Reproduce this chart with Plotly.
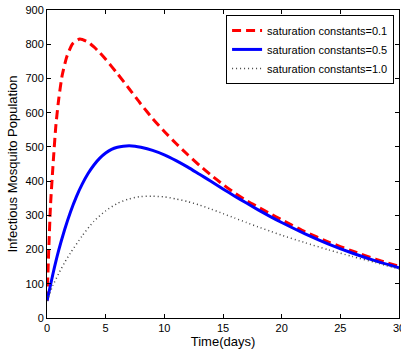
import plotly.graph_objects as go

# Data
t_red = [0, 0.15, 0.3, 0.5, 0.75, 1, 1.3, 1.7, 2.2, 2.8, 3.5, 4, 4.5, 5, 6, 7, 8, 9, 10, 11, 12, 13, 14, 15, 16, 17, 18, 19, 20, 22, 24, 26, 28, 30]
v_red = [50, 200, 330, 440, 560, 640, 710, 765, 802, 815, 806, 792, 775, 756, 714, 670, 625, 583, 545, 510, 477, 446, 417, 390, 365, 343, 324, 305, 287, 252, 222, 196, 172, 151]

t_blue = [0, 0.5, 1, 1.5, 2, 2.5, 3, 3.5, 4, 4.5, 5, 5.5, 6, 6.5, 7, 7.5, 8, 9, 10, 11, 12, 13, 14, 15, 16, 17, 18, 19, 20, 22, 24, 26, 28, 30]
v_blue = [50, 128, 198, 258, 310, 354, 391, 422, 447, 467, 482, 493, 499, 502, 503, 502, 499, 490, 477, 460, 441, 420, 399, 377, 356, 336, 316, 297, 279, 246, 216, 190, 167, 147]

t_dot = [0, 0.5, 1, 1.5, 2, 3, 4, 5, 6, 7, 8, 9, 10, 11, 12, 13, 14, 15, 16, 17, 18, 19, 20, 22, 24, 26, 28, 30]
v_dot = [50, 95, 130, 162, 190, 240, 283, 313, 335, 348, 355, 356, 354, 348, 340, 330, 318, 305, 292, 279, 266, 254, 242, 220, 199, 180, 162, 143]

names = ["saturation constants=0.1", "saturation constants=0.5", "saturation constants=1.0"]
x_ticks = [0, 5, 10, 15, 20, 25, 30]
y_ticks = [0, 100, 200, 300, 400, 500, 600, 700, 800, 900]

fig = go.Figure()
fig.add_trace(go.Scatter(x=t_red, y=v_red, mode="lines", name=names[0],
                         line=dict(color="red", width=3, dash="9px,5px", shape="spline", smoothing=0.6)))
fig.add_trace(go.Scatter(x=t_blue, y=v_blue, mode="lines", name=names[1],
                         line=dict(color="blue", width=3, shape="spline", smoothing=0.6)))
fig.add_trace(go.Scatter(x=t_dot, y=v_dot, mode="lines", name=names[2],
                         line=dict(color="#444444", width=1.5, dash="1px,3px", shape="spline", smoothing=0.6)))

axis_common = dict(showgrid=False, zeroline=False, showline=True, linecolor="black", linewidth=1,
                   mirror="ticks", ticks="inside", ticklen=4, tickcolor="black",
                   tickfont=dict(family="Liberation Sans", size=11, color="black"))

fig.update_layout(
    width=401, height=352,
    margin=dict(l=47, r=2, t=10, b=34),
    paper_bgcolor="white", plot_bgcolor="white",
    font=dict(family="Liberation Sans", size=11, color="black"),
    xaxis=dict(range=[0, 30], tickvals=x_ticks, title=dict(text="Time(days)", standoff=2), **axis_common),
    yaxis=dict(range=[0, 900], tickvals=y_ticks, title=dict(text="Infectious Mosquito Population", standoff=4), **axis_common),
    legend=dict(x=0.986, y=0.984, xanchor="right", yanchor="top", bgcolor="white",
                bordercolor="black", borderwidth=1, font=dict(size=11),
                tracegroupgap=0, itemwidth=30),
    showlegend=True,
)

# last tick label, which the reference shows clipped at the right edge
fig.add_annotation(x=x_ticks[-1], y=0, xref="x", yref="paper", yanchor="top", yshift=-2,
                   text=str(x_ticks[-1]), showarrow=False,
                   font=dict(family="Liberation Sans", size=11, color="black"))

fig.write_html("out.html")
